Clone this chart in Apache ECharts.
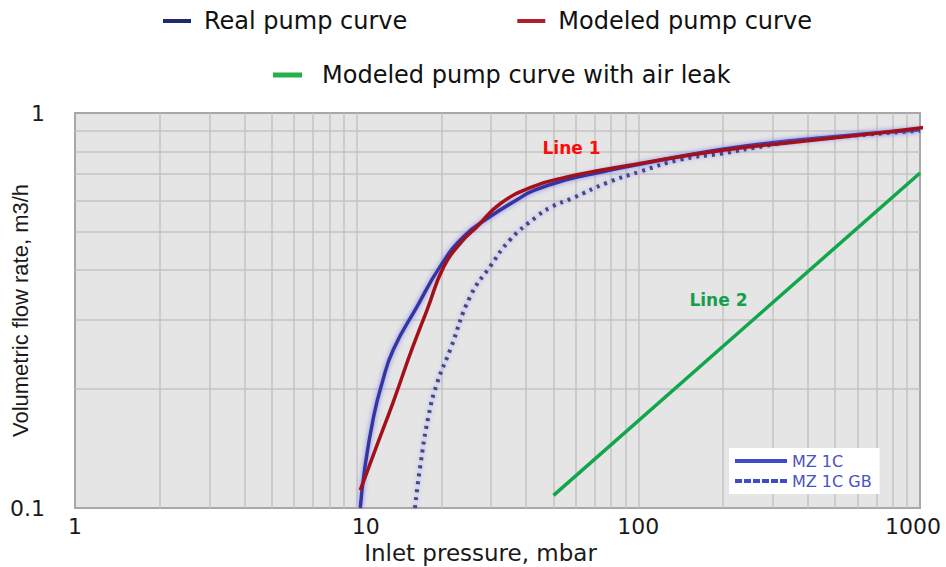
<!DOCTYPE html>
<html><head><meta charset="utf-8">
<script src="https://cdn.jsdelivr.net/npm/echarts@6/dist/echarts.min.js"></script>
<style>html,body{margin:0;padding:0;background:#fff}#c{width:946px;height:567px}</style>
</head><body><div id="c"></div>
<script>
// Real pump curve (MZ 1C)
const realPressure = [10.3, 10.7, 11.5, 12.3, 13.5, 16.4, 19.8, 24.0, 29.8, 37.1, 42.4, 55.9, 73.4, 95.8, 196, 376, 1000];
const realFlow     = [0.100, 0.127, 0.171, 0.207, 0.252, 0.324, 0.409, 0.487, 0.547, 0.603, 0.636, 0.678, 0.708, 0.736, 0.808, 0.856, 0.907];
// Modeled pump curve
const modelPressure = [10.3, 11.8, 13.5, 15.7, 17.8, 20.4, 23.4, 26.8, 32.4, 42.5, 55.9, 73.4, 95.9, 196, 376, 1000, 1069];
const modelFlow     = [0.111, 0.144, 0.186, 0.252, 0.318, 0.409, 0.469, 0.516, 0.590, 0.652, 0.689, 0.716, 0.740, 0.804, 0.847, 0.916, 0.929];
// MZ 1C GB (dotted)
const gbPressure = [16.1, 16.8, 18.0, 19.3, 21.5, 25.3, 29.8, 35.1, 43.6, 48.6, 58.8, 77.5, 101.7, 141, 196, 287, 376, 1000];
const gbFlow     = [0.100, 0.127, 0.171, 0.207, 0.252, 0.343, 0.409, 0.478, 0.547, 0.576, 0.610, 0.666, 0.711, 0.762, 0.789, 0.827, 0.852, 0.902];
// Modeled pump curve with air leak
const leakPressure = [50.0, 1000];
const leakFlow     = [0.1076, 0.705];

const xTickLabels = ['1', '10', '100', '1000'];
const yTickLabels = ['0.1', '1'];
const xGridValues = [2,3,4,5,6,7,8,9,10,20,30,40,50,60,70,80,90,100,200,300,400,500,600,700,800,900];
const yGridValues = [0.2,0.3,0.4,0.5,0.6,0.7,0.8,0.9];

const annotationText = ['Line 1', 'Line 2'];
const annotationPressure = [57.9, 192.5];
const annotationFlow = [0.817, 0.337];

function pairs(xs, ys) { return xs.map((x, i) => [x, ys[i]]); }

const FONT = 'DejaVu Sans';
const chart = echarts.init(document.getElementById('c'), null, {renderer: 'svg'});

function annot(i, color) {
  return {
    silent: true,
    symbol: 'circle', symbolSize: 1,
    itemStyle: {color: 'rgba(0,0,0,0)'},
    label: {show: true, position: 'inside', formatter: annotationText[i], color: color,
            fontFamily: FONT, fontWeight: 'bold', fontSize: 17},
    data: [{coord: [annotationPressure[i], annotationFlow[i]]}]
  };
}

const hiddenSymbol = {color: 'rgba(0,0,0,0)', borderWidth: 0, opacity: 0};
const xLabelStyle = ['c', 'l', 'c', 'r'];

const option = {
  animation: false,
  grid: {left: 75, right: 26, top: 113, bottom: 59, show: true, containLabel: false,
         outerBoundsMode: 'none',
         backgroundColor: '#e5e5e5', borderColor: '#a8a8a8', borderWidth: 2},
  legend: [
    {
      data: [{name: 'Real pump curve', itemStyle: {color: '#1f2b6a'}},
             {name: 'Modeled pump curve', itemStyle: {color: '#b0202a'}}],
      icon: 'rect', itemWidth: 28, itemHeight: 4, itemGap: 110,
      left: 163, top: 9, padding: 0, selectedMode: false,
      textStyle: {fontFamily: FONT, fontSize: 24, color: '#111', padding: [0, 0, 0, 8]}
    },
    {
      data: [{name: 'Modeled pump curve with air leak', itemStyle: {color: '#22b14c'}}],
      icon: 'rect', itemWidth: 29, itemHeight: 5,
      left: 273, top: 63, padding: 0, selectedMode: false,
      textStyle: {fontFamily: FONT, fontSize: 24, color: '#111', padding: [0, 0, 0, 15]}
    },
    {
      data: [{name: 'MZ 1C', itemStyle: hiddenSymbol, lineStyle: {color: '#3f4cc8', width: 4, shadowBlur: 0}},
             {name: 'MZ 1C GB', itemStyle: hiddenSymbol, lineStyle: {color: '#3f4cc8', width: 4, type: [7, 2], shadowBlur: 0}}],
      orient: 'vertical', left: 729, top: 448, backgroundColor: '#ffffff',
      padding: [5, 8, 5, 4], itemGap: 4, itemWidth: 52, itemHeight: 14, selectedMode: false,
      textStyle: {fontFamily: FONT, fontSize: 16, color: '#4a52c2'}
    }
  ],
  xAxis: {
    type: 'log', logBase: 10, min: 1, max: 1000,
    axisLine: {show: false}, axisTick: {show: false}, splitLine: {show: false},
    axisLabel: {margin: 7, fontFamily: FONT, fontSize: 22, color: '#1a1a1a',
                showMinLabel: true, showMaxLabel: true,
                formatter: v => {
                  const i = Math.round(Math.log10(v));
                  return '{' + xLabelStyle[i] + '|' + xTickLabels[i] + '}';
                },
                rich: {
                  c: {fontFamily: FONT, fontSize: 22, color: '#1a1a1a'},
                  l: {fontFamily: FONT, fontSize: 22, color: '#1a1a1a', padding: [0, 0, 0, 18]},
                  r: {fontFamily: FONT, fontSize: 22, color: '#1a1a1a', padding: [0, 14, 0, 0]}
                }},
    name: 'Inlet pressure, mbar', nameLocation: 'middle', nameGap: 32,
    nameTextStyle: {fontFamily: FONT, fontSize: 23, color: '#1a1a1a', padding: [0, 34, 0, 0]}
  },
  yAxis: {
    type: 'log', logBase: 10, min: 0.1, max: 1,
    axisLine: {show: false}, axisTick: {show: false}, splitLine: {show: false},
    axisLabel: {margin: 30, fontFamily: FONT, fontSize: 22, color: '#1a1a1a',
                showMinLabel: true, showMaxLabel: true,
                formatter: v => yTickLabels[Math.round(Math.log10(v)) + 1]},
    name: 'Volumetric flow rate, m3/h', nameLocation: 'middle', nameGap: 44, nameMoveOverlap: false,
    nameTextStyle: {fontFamily: 'Liberation Sans', fontSize: 22, color: '#1a1a1a'}
  },
  series: [
    {
      name: 'grid', type: 'line', data: [], silent: true, z: 1,
      markLine: {
        silent: true, symbol: ['none', 'none'], z: 1, animation: false,
        label: {show: false},
        lineStyle: {color: '#c3c3c3', width: 1.5, type: 'solid'},
        emphasis: {disabled: true},
        data: xGridValues.map(v => ({xAxis: v})).concat(yGridValues.map(v => ({yAxis: v})))
      }
    },
    {
      name: 'Real pump curve', type: 'line', z: 3, symbol: 'none', showSymbol: false, smooth: 0.5,
      data: pairs(realPressure, realFlow),
      itemStyle: {color: '#3636a0'},
      lineStyle: {color: '#3636a0', width: 3.5, shadowColor: 'rgba(120,120,240,0.9)', shadowBlur: 5}
    },
    {
      name: 'MZ 1C', type: 'line', z: 3, symbol: 'none', data: [],
      itemStyle: {color: '#3f4cc8'}, lineStyle: {color: '#3f4cc8', width: 4}
    },
    {
      name: 'MZ 1C GB', type: 'line', z: 3, symbol: 'none', showSymbol: false, smooth: 0.5,
      data: pairs(gbPressure, gbFlow),
      itemStyle: {color: '#45458a'},
      lineStyle: {color: '#45458a', width: 4, type: [3, 5], shadowColor: 'rgba(140,140,240,0.9)', shadowBlur: 4}
    },
    {
      name: 'Modeled pump curve', type: 'line', z: 4, symbol: 'none', showSymbol: false, smooth: 0.5, clip: false,
      data: pairs(modelPressure, modelFlow),
      itemStyle: {color: '#a4101a'},
      lineStyle: {color: '#a4101a', width: 3.5},
      markPoint: annot(0, '#ff0a0a')
    },
    {
      name: 'Modeled pump curve with air leak', type: 'line', z: 4, symbol: 'none', showSymbol: false,
      data: pairs(leakPressure, leakFlow),
      itemStyle: {color: '#12a64c'},
      lineStyle: {color: '#12a64c', width: 3.5},
      markPoint: annot(1, '#12a04c')
    }
  ]
};
chart.setOption(option);
</script>
</body></html>
